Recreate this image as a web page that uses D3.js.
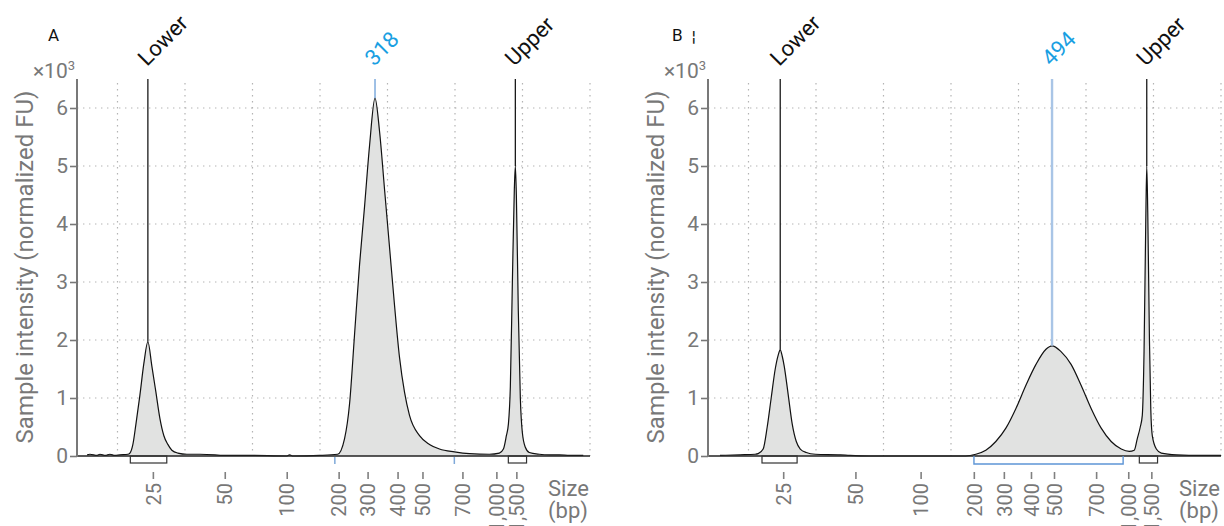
<!DOCTYPE html>
<html>
<head>
<meta charset="utf-8">
<script src="https://cdn.jsdelivr.net/npm/d3@7"></script>
<style>
	body { margin: 0; background: #fff; }
	svg { display: block; font-family: Roboto, "Noto Sans", sans-serif; }
</style>
</head>
<body>
<svg id="chart" width="1224" height="526"></svg>
<script>
// migration time units, gridlines every 10
let gridTimes = [10, 20, 30, 40, 50, 60, 70, 80]
let yTicks = [0, 1, 2, 3, 4, 5, 6]
let sizeLabels = ['25', '50', '100', '200', '300', '400', '500', '700', '1,000', '1,500']

let ladderTimesA = [15.24, 25.89, 35.07, 42.76, 47.05, 51.49, 55.18, 61.10, 66.13, 69.09]
let ladderTimesB = [15.14, 25.84, 35.50, 43.38, 47.83, 51.85, 55.26, 61.50, 66.26, 69.68]

// [time, intensity x1000 FU]
let traceA = [
	[5.5, 0.02], [5.92, 0.03], [7.0, 0.01], [7.4, 0.03], [8.2, 0.01], [8.88, 0.03], [9.6, 0.01],
	[10.36, 0.02], [11.54, 0.03], [11.84, 0.05], [12.28, 0.2], [12.73, 0.55], [13.32, 1.05],
	[13.91, 1.6], [14.5, 1.97], [15.09, 1.55], [15.69, 1.1], [16.28, 0.65], [16.87, 0.35],
	[17.46, 0.2], [18.05, 0.1], [18.94, 0.05], [20.27, 0.03], [22.2, 0.03], [24.41, 0.02],
	[25.5, 0.01], [29.59, 0.01], [35.0, 0.0], [35.5, 0.02], [36.0, 0.0], [39.95, 0.01],
	[42.61, 0.03], [43.64, 0.3], [44.38, 0.9], [45.12, 2.1], [45.86, 3.3], [46.6, 4.3],
	[47.34, 5.35], [48.15, 6.17], [48.82, 5.6], [49.56, 4.6], [50.3, 3.6], [51.04, 2.6],
	[51.78, 1.7], [52.52, 1.1], [53.26, 0.7], [54.74, 0.35], [56.22, 0.2], [57.7, 0.12],
	[59.92, 0.07], [62.14, 0.04], [65.09, 0.03], [66.57, 0.05], [67.17, 0.12], [67.61, 0.35],
	[67.91, 0.55], [68.2, 1.2], [68.5, 3.0], [68.79, 4.6], [68.94, 5.0], [69.09, 4.5],
	[69.38, 2.5], [69.68, 1.0], [69.98, 0.4], [70.42, 0.15], [71.01, 0.06], [72.49, 0.03],
	[74.0, 0.02], [75.45, 0.02], [77.0, 0.01], [79.0, 0.01]
]

let traceB = [
	[5.78, 0.01], [8.75, 0.02], [10.98, 0.03], [11.43, 0.04], [12.17, 0.12], [12.77, 0.5],
	[13.36, 1.0], [13.96, 1.5], [14.4, 1.74], [14.7, 1.83], [15.0, 1.72], [15.29, 1.55],
	[15.89, 1.05], [16.48, 0.55], [17.08, 0.25], [17.67, 0.12], [18.56, 0.06], [19.9, 0.03],
	[23.61, 0.02], [25.0, 0.01], [28.07, 0.0], [35.5, 0.0], [42.19, 0.0], [43.67, 0.03],
	[45.16, 0.1], [46.64, 0.25], [48.13, 0.48], [49.62, 0.82], [51.1, 1.22], [52.59, 1.58],
	[54.07, 1.84], [54.97, 1.9], [56.3, 1.8], [57.79, 1.58], [59.27, 1.22], [60.76, 0.82],
	[62.25, 0.48], [63.73, 0.25], [65.22, 0.12], [66.41, 0.08], [67.15, 0.1], [67.6, 0.3],
	[68.04, 0.5], [68.34, 0.7], [68.6, 1.8], [68.85, 4.0], [69.0, 5.0], [69.15, 4.2],
	[69.4, 2.0], [69.6, 0.8], [69.82, 0.35], [70.42, 0.12], [71.16, 0.05], [73.39, 0.02],
	[77.11, 0.01], [80.0, 0.01]
]

let markersA = [
	{ label: 'Lower', t: 14.5, v: 1.97, kind: 'ladder' },
	{ label: '318', t: 48.15, v: 6.17, kind: 'peak' },
	{ label: 'Upper', t: 68.94, v: 5.0, kind: 'ladder' }
]
let markersB = [
	{ label: 'Lower', t: 14.7, v: 1.83, kind: 'ladder' },
	{ label: '494', t: 54.97, v: 1.9, kind: 'peak' },
	{ label: 'Upper', t: 69.0, v: 5.0, kind: 'ladder' }
]

// integration ranges under the axis
let boxesA = [[11.9, 17.3], [67.9, 70.6]]
let boxesB = [[12.0, 17.2], [67.9, 70.6]]
let regionA = [42.2, 59.9]
let regionB = [43.4, 65.5]

let panels = [
	{ name: 'A', trace: traceA, ladder: ladderTimesA, markers: markersA, boxes: boxesA, region: regionA, regionStyle: 'ticks', left: 77, letterX: 48 },
	{ name: 'B', trace: traceB, ladder: ladderTimesB, markers: markersB, boxes: boxesB, region: regionB, regionStyle: 'bracket', left: 708, letterX: 672 }
]

let svg = d3.select('#chart')

let plotW = 513
let yBottom = 456
let yTop = 79
let grey = '#787878'
let blue = '#1a9fe2'

let drawPanel = p => {

	let g = svg.append('g').attr('transform', `translate(${p.left},0)`)

	let x = d3.scaleLinear().domain([4, 80]).range([0, plotW])
	let y = d3.scaleLinear().domain([0, 6.5]).range([yBottom, yTop])

	// grid
	g.append('g').selectAll('line')
		.data(yTicks.filter(d => d > 0))
		.enter().append('line')
		.attr('x1', 0).attr('x2', plotW)
		.attr('y1', d => y(d)).attr('y2', d => y(d))
		.attr('stroke', '#b4b4b4').attr('stroke-width', 1.2)
		.attr('stroke-dasharray', '1.4,4.6')

	g.append('g').selectAll('line')
		.data(gridTimes)
		.enter().append('line')
		.attr('x1', d => x(d)).attr('x2', d => x(d))
		.attr('y1', yTop + 4).attr('y2', yBottom)
		.attr('stroke', '#b4b4b4').attr('stroke-width', 1.2)
		.attr('stroke-dasharray', '1.4,4.6')

	// trace
	let area = d3.area()
		.x(d => x(d[0]))
		.y0(y(0))
		.y1(d => y(d[1]))
		.curve(d3.curveMonotoneX)

	let line = d3.line()
		.x(d => x(d[0]))
		.y(d => y(d[1]))
		.curve(d3.curveMonotoneX)

	g.append('path')
		.attr('d', area(p.trace))
		.attr('fill', '#e1e2e1')

	g.append('path')
		.attr('d', line(p.trace))
		.attr('fill', 'none')
		.attr('stroke', '#111')
		.attr('stroke-width', 1.2)

	// baseline
	g.append('line')
		.attr('x1', 0).attr('x2', plotW)
		.attr('y1', y(0)).attr('y2', y(0))
		.attr('stroke', '#222').attr('stroke-width', 1.6)

	// y axis
	let yAxis = g.append('g')
		.call(d3.axisLeft(y).tickValues(yTicks).tickSize(7).tickPadding(2).tickFormat(d3.format('d')))
	yAxis.select('.domain')
		.attr('d', `M0,${yTop}V${yBottom + 1}`)
		.attr('stroke', grey).attr('stroke-width', 2)
	yAxis.selectAll('.tick line').attr('stroke', grey).attr('stroke-width', 1.6)
	yAxis.selectAll('.tick text')
		.attr('fill', grey)
		.style('font-size', '21px')
		.style('font-family', 'Roboto')

	let mult = g.append('text')
		.attr('x', -2).attr('y', 78)
		.attr('text-anchor', 'end')
		.attr('fill', grey)
		.style('font-size', '21px')
	mult.append('tspan').text('×10')
	mult.append('tspan').text('3').attr('dy', -8).style('font-size', '13px')

	g.append('text')
		.attr('transform', `translate(-44,267) rotate(-90)`)
		.attr('text-anchor', 'middle')
		.attr('fill', grey)
		.style('font-size', '24px')
		.text('Sample intensity (normalized FU)')

	// x axis (size ladder)
	let xAxis = g.append('g')
		.attr('transform', 'translate(0,472)')
		.call(d3.axisBottom(x).tickValues(p.ladder).tickSize(7).tickFormat((d, i) => sizeLabels[i]))
	xAxis.select('.domain').remove()
	xAxis.selectAll('.tick line').attr('stroke', '#808080').attr('stroke-width', 1.6)
	xAxis.selectAll('.tick text')
		.attr('transform', 'rotate(-90)')
		.attr('x', -11).attr('y', 0).attr('dy', '0.36em')
		.attr('text-anchor', 'end')
		.attr('fill', '#777')
		.style('font-size', '20px')
		.style('font-family', 'Roboto')

	let sizeLab = g.append('text')
		.attr('x', plotW - 42).attr('y', 496)
		.attr('fill', grey)
		.style('font-size', '22px')
	sizeLab.append('tspan').text('Size')
	sizeLab.append('tspan').text('(bp)').attr('x', plotW - 42).attr('dy', 22)

	// integration boxes
	g.append('g').selectAll('rect')
		.data(p.boxes)
		.enter().append('rect')
		.attr('x', d => x(d[0]))
		.attr('width', d => x(d[1]) - x(d[0]))
		.attr('y', yBottom).attr('height', 7)
		.attr('fill', 'none')
		.attr('stroke', '#333').attr('stroke-width', 1.2)

	if (p.regionStyle === 'ticks') {
		g.append('g').selectAll('line')
			.data(p.region)
			.enter().append('line')
			.attr('x1', d => x(d)).attr('x2', d => x(d))
			.attr('y1', yBottom + 1).attr('y2', yBottom + 8)
			.attr('stroke', '#7fa9d9').attr('stroke-width', 1.5)
	} else {
		g.append('path')
			.attr('d', `M${x(p.region[0])},${yBottom}V${yBottom + 8}H${x(p.region[1])}V${yBottom}`)
			.attr('fill', 'none')
			.attr('stroke', '#5d95d6').attr('stroke-width', 1.4)
	}

	// peak markers
	let mk = g.append('g').selectAll('g')
		.data(p.markers)
		.enter().append('g')

	mk.append('line')
		.attr('x1', d => x(d.t)).attr('x2', d => x(d.t))
		.attr('y1', yTop).attr('y2', d => y(d.v))
		.attr('stroke', d => d.kind === 'peak' ? (p.name === 'B' ? '#a9c5e6' : '#6b9ed8') : '#1a1a1a')
		.attr('stroke-width', d => d.kind === 'peak' && p.name === 'B' ? 2.4 : 1.3)

	mk.append('text')
		.attr('transform', d => `translate(${x(d.t) - 1},67) rotate(-45)`)
		.attr('fill', d => d.kind === 'peak' ? blue : '#111')
		.style('font-size', '22px')
		.text(d => d.label)

	// panel letter
	svg.append('text')
		.attr('x', p.letterX).attr('y', 41)
		.attr('fill', '#111')
		.style('font-size', '17px')
		.text(p.name)
}

panels.forEach(drawPanel)

// stray glyph next to the B panel letter
svg.append('text')
	.attr('x', 692).attr('y', 42)
	.attr('fill', '#111')
	.style('font-size', '15px')
	.text('¦')
</script>
</body>
</html>
